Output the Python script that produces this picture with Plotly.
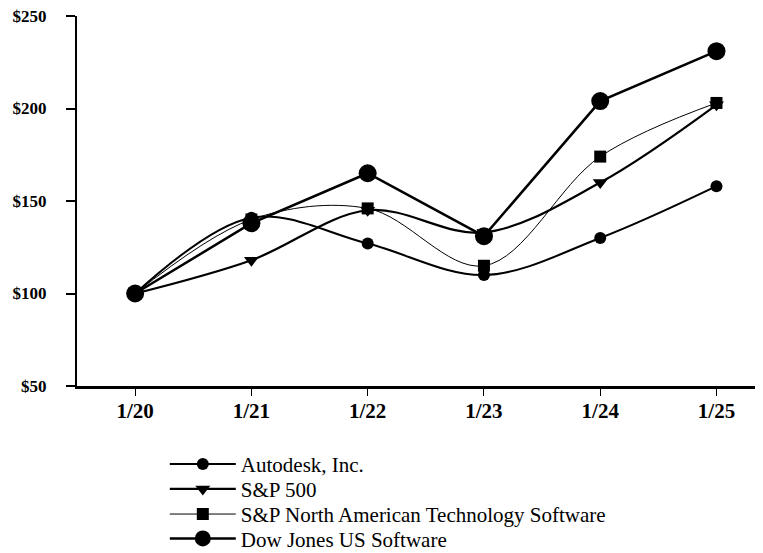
import plotly.graph_objects as go

categories = ["1/20", "1/21", "1/22", "1/23", "1/24", "1/25"]
autodesk = [100, 141, 127, 110, 130, 158]
sp500 = [100, 118, 145, 133, 160, 202]
sp_na_tech = [100, 140, 146, 115, 174, 203]
dow_sw = [100, 138, 165, 131, 204, 231]
y_ticks = [50, 100, 150, 200, 250]
y_tick_labels = ["$50", "$100", "$150", "$200", "$250"]

x_idx = list(range(len(categories)))

fig = go.Figure()
fig.add_trace(go.Scatter(
    x=x_idx, y=autodesk, name="Autodesk, Inc.", mode="lines+markers",
    line=dict(color="black", width=2, shape="spline", smoothing=1.0),
    marker=dict(symbol="circle", size=12, color="black"), legend="legend"))
fig.add_trace(go.Scatter(
    x=x_idx, y=sp500, name="S&P 500", mode="lines+markers",
    line=dict(color="black", width=2.2, shape="spline", smoothing=1.0),
    marker=dict(symbol="triangle-down", size=13, color="black"), legend="legend2"))
fig.add_trace(go.Scatter(
    x=x_idx, y=sp_na_tech, name="S&P North American Technology Software", mode="lines+markers",
    line=dict(color="black", width=1, shape="spline", smoothing=1.0),
    marker=dict(symbol="square", size=12, color="black"), legend="legend3"))
fig.add_trace(go.Scatter(
    x=x_idx, y=dow_sw, name="Dow Jones US Software", mode="lines+markers",
    line=dict(color="black", width=2.5),
    marker=dict(symbol="circle", size=18, color="black"), legend="legend4"))

leg_font = dict(size=21, family="Liberation Serif", color="black")
def leg(y):
    return dict(x=0.128, y=y, xanchor="left", yanchor="middle", font=leg_font,
                itemwidth=66, bgcolor="rgba(0,0,0,0)", borderwidth=0)

# the page body adds an 8px offset, so the figure is 8px smaller than the window
fig.update_layout(
    width=755, height=545,
    margin=dict(l=69, r=0, t=8, b=167, autoexpand=False),
    paper_bgcolor="white", plot_bgcolor="white",
    font=dict(family="Liberation Serif", color="black"),
    showlegend=True,
    legend=leg(-0.212),
    legend2=leg(-0.279),
    legend3=leg(-0.347),
    legend4=leg(-0.413),
)
fig.update_xaxes(
    range=[-0.5, 5.4], tickmode="array", tickvals=x_idx, ticktext=categories,
    showgrid=False, zeroline=False, showline=True, linecolor="black", linewidth=3,
    ticks="outside", ticklen=7, tickwidth=1, tickcolor="black",
    tickfont=dict(size=21, family="Liberation Serif", weight="bold"),
    ticklabelstandoff=-3, ticklabeloverflow="allow", automargin=False, fixedrange=True)
fig.update_yaxes(
    range=[50, 250], tickmode="array", tickvals=y_ticks, ticktext=y_tick_labels,
    showgrid=False, zeroline=False, showline=True, linecolor="black", linewidth=2,
    ticks="outside", ticklen=9, tickwidth=1.5, tickcolor="black",
    tickfont=dict(size=17, family="Liberation Serif", weight="bold"),
    ticklabelstandoff=16, ticklabeloverflow="allow", automargin=False, fixedrange=True)

fig.write_html("out.html")
